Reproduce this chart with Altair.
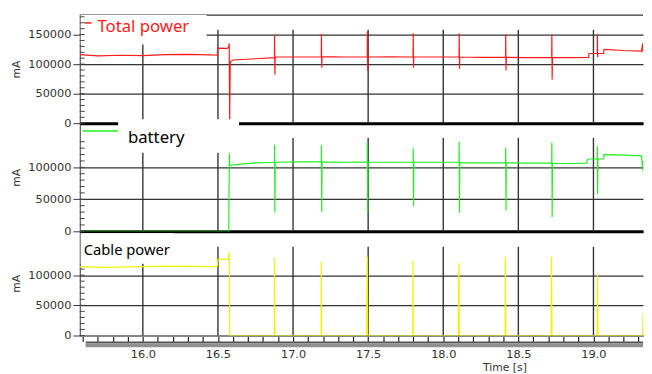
import altair as alt
import pandas as pd

X_MIN, X_MAX = 15.58, 19.33

# ---- Total power (red) ----
total_t = [15.58, 15.70, 15.85, 16.00, 16.15, 16.30, 16.45, 16.495, 16.50, 16.56, 16.57, 16.575, 16.578, 16.582,
           16.60, 16.75, 16.876, 16.877, 16.879, 16.881, 17.00, 17.188, 17.189, 17.191, 17.193, 17.35,
           17.494, 17.495, 17.497, 17.499, 17.65, 17.799, 17.80, 17.802, 17.804, 17.95,
           18.105, 18.106, 18.108, 18.11, 18.25, 18.415, 18.416, 18.418, 18.42, 18.55,
           18.722, 18.723, 18.725, 18.727, 18.85, 18.968, 18.97, 19.025, 19.026, 19.028, 19.03,
           19.068, 19.07, 19.20, 19.32, 19.328, 19.33]
total_v = [116000, 114000, 115000, 114500, 116000, 116500, 115500, 115000, 127000, 126500, 128000, 135000, 5000, 104000,
           107000, 109000, 111000, 150000, 82000, 112000, 112000, 112500, 151000, 94000, 112500, 112000,
           112000, 155000, 89000, 112000, 112500, 112000, 152000, 94000, 112000, 112000,
           112000, 152000, 92000, 112000, 111500, 111500, 150000, 89000, 111500, 111000,
           111000, 150000, 74000, 111000, 111000, 111500, 118000, 118000, 150000, 112000, 118000,
           118000, 125000, 123000, 122000, 135000, 120000]

# ---- battery (green) ----
batt_t = [15.58, 16.572, 16.574, 16.576, 16.578, 16.65, 16.75, 16.876, 16.877, 16.879, 16.881, 17.05,
          17.188, 17.189, 17.191, 17.193, 17.35, 17.494, 17.495, 17.497, 17.499, 17.65,
          17.799, 17.80, 17.802, 17.804, 17.95, 18.105, 18.106, 18.108, 18.11, 18.25,
          18.415, 18.416, 18.418, 18.42, 18.55, 18.722, 18.723, 18.725, 18.727, 18.85,
          18.955, 18.96, 18.968, 19.025, 19.026, 19.028, 19.03, 19.068, 19.07, 19.20, 19.32, 19.328, 19.33]
batt_v = [0, 0, 63000, 122000, 103000, 105000, 107000, 108000, 135000, 29000, 108000, 108500,
          108500, 135000, 30000, 108500, 108000, 108500, 139000, 30000, 108000, 108000,
          108000, 130000, 39000, 108000, 108000, 108000, 140000, 29000, 107500, 107000,
          107000, 131000, 33000, 107000, 106500, 106500, 139000, 22000, 106000, 106000,
          106500, 112000, 113000, 113000, 133000, 58000, 113000, 113000, 120000, 119000, 118000, 95000, 110000]

# ---- Cable power (yellow) ----
cable_t = [15.58, 15.75, 16.00, 16.20, 16.45, 16.495, 16.50, 16.57, 16.575, 16.578, 16.875, 16.876, 16.879,
           17.187, 17.188, 17.191, 17.49, 17.491, 17.494, 17.497, 17.797, 17.798, 17.801,
           18.100, 18.101, 18.104, 18.107, 18.412, 18.413, 18.415, 18.417,
           18.718, 18.719, 18.721, 18.724, 19.024, 19.025, 19.027, 19.03, 19.327, 19.33]
cable_v = [114000, 113000, 114000, 115000, 114000, 114000, 126000, 126000, 138000, 0, 0, 129000, 0,
           0, 122000, 0, 0, 50000, 131000, 0, 0, 124000, 0,
           0, 82000, 121000, 0, 0, 130000, 64000, 0,
           0, 50000, 130000, 0, 0, 50000, 102000, 0, 0, 37000]

grid_t = [16.0, 16.5, 17.0, 17.5, 18.0, 18.5, 19.0]
x_tick_values = [round(15.6 + 0.1 * i, 1) for i in range(38)]
labels_1 = [0, 50000, 100000, 150000]
labels_23 = [0, 50000, 100000]

W = 573
H1, H2, H3 = 110, 110, 106
LABEL_FONT = "DejaVu Sans"
GRID = "#333333"


def panel(t, v, color, y_top, y_labels, grid_top, minor_top, height, x_axis, extra):
    x = alt.X("t:Q", scale=alt.Scale(domain=[X_MIN, X_MAX], nice=False, zero=False), axis=x_axis)
    y_axis = alt.Axis(values=y_labels, title="mA", grid=True, gridColor=GRID, gridWidth=1.3,
                      tickSize=7, tickColor="#333", domainColor="#333", labelPadding=2,
                      minExtent=56, maxExtent=56, titlePadding=3, titleFontSize=11, format="d")
    yscale = alt.Scale(domain=[0, y_top], nice=False, zero=True)

    def Y(f):
        return alt.Y(f, scale=yscale, axis=y_axis)

    vg = alt.Chart(pd.DataFrame({"t": grid_t, "y0": 0, "y1": grid_top})).mark_rule(
        color=GRID, strokeWidth=1.4).encode(x=x, y=Y("y0:Q"), y2="y1:Q")
    line = alt.Chart(pd.DataFrame({"t": t, "v": v})).mark_line(
        color=color, strokeWidth=1.2, clip=True).encode(x=x, y=Y("v:Q"))
    minor = alt.Chart(pd.DataFrame({"m": [i * 10000 for i in range(0, minor_top // 10000 + 1)]})).mark_rule(
        color="#444", strokeWidth=1).encode(y=Y("m:Q"), x=alt.value(0), x2=alt.value(5))
    return alt.layer(vg, line, *extra, minor).properties(width=W, height=height)


def rect(x0, x1, y0, y1, color="white"):
    return alt.Chart(pd.DataFrame({"a": [0]})).mark_rect(color=color).encode(
        x=alt.value(x0), x2=alt.value(x1), y=alt.value(y0), y2=alt.value(y1))


def label(txt, x0, y0, color, size):
    return alt.Chart(pd.DataFrame({"a": [0]})).mark_text(
        align="left", baseline="middle", font="Noto Sans", fontSize=size, color=color).encode(
        x=alt.value(x0), y=alt.value(y0), text=alt.value(txt))


def swatch(x0, x1, y0, color, w=1.5):
    return alt.Chart(pd.DataFrame({"a": [0]})).mark_rule(color=color, strokeWidth=w).encode(
        x=alt.value(x0), x2=alt.value(x1), y=alt.value(y0))


top_border = alt.Chart(pd.DataFrame({"a": [0]})).mark_rule(color=GRID, strokeWidth=1.3).encode(
    x=alt.value(0), x2=alt.value(W), y=alt.value(0))

hidden_x_axis = alt.Axis(labels=False, ticks=False, grid=False, title=None, domainColor="black",
                         domainWidth=3, minExtent=0, maxExtent=0)

p1 = panel(total_t, total_v, "#ff1a1a", 183000, labels_1, 158000, 180000, H1, hidden_x_axis,
           [top_border, rect(1, 129, 0, 30), swatch(5, 12, 8, "#ff1a1a"),
            label("Total power", 18, 12, "#ff1a1a", 17)])

p2 = panel(batt_t, batt_v, "#22ee22", 169000, labels_23, 146000, 140000, H2, hidden_x_axis,
           [rect(39, 162, -4, 30), swatch(3, 39, 8, "#22ee22"),
            label("battery", 49, 15, "black", 17)])

x_axis_3 = alt.Axis(values=x_tick_values, grid=False, title="Time [s]",
                    labelExpr="abs(datum.value*2 - round(datum.value*2)) < 0.001 ? format(datum.value, '.1f') : ''",
                    tickSize=6, tickColor="#222", tickWidth=1.2, domainColor="#888", domainWidth=2,
                    labelPadding=7, labelFlush=False, titleX=432, titleY=33, titleBaseline="middle",
                    titleAlign="center", titleFontSize=11)

p3 = panel(cable_t, cable_v, "#f2f200", 172600, labels_23, 147000, 110000, H3, x_axis_3,
           [rect(1, 96, 2, 33), label("Cable power", 4, 19, "black", 15),
            rect(6, W, H3 + 6, H3 + 8, "#555555"), rect(6, W, H3 + 8, H3 + 12, "#8f8f8f")])

chart = alt.vconcat(p1, p2, p3, spacing=0, bounds="flush").properties(
    padding={"left": 3, "top": 3, "right": 0, "bottom": 0}
).configure_view(stroke=None).configure_axis(
    labelFont=LABEL_FONT, labelFontSize=11.5, labelColor="#333",
    titleFont=LABEL_FONT, titleFontSize=11.5, titleColor="#333", titleFontWeight="normal"
)

chart.save("out.html", embed_options={"renderer": "svg", "actions": False})
